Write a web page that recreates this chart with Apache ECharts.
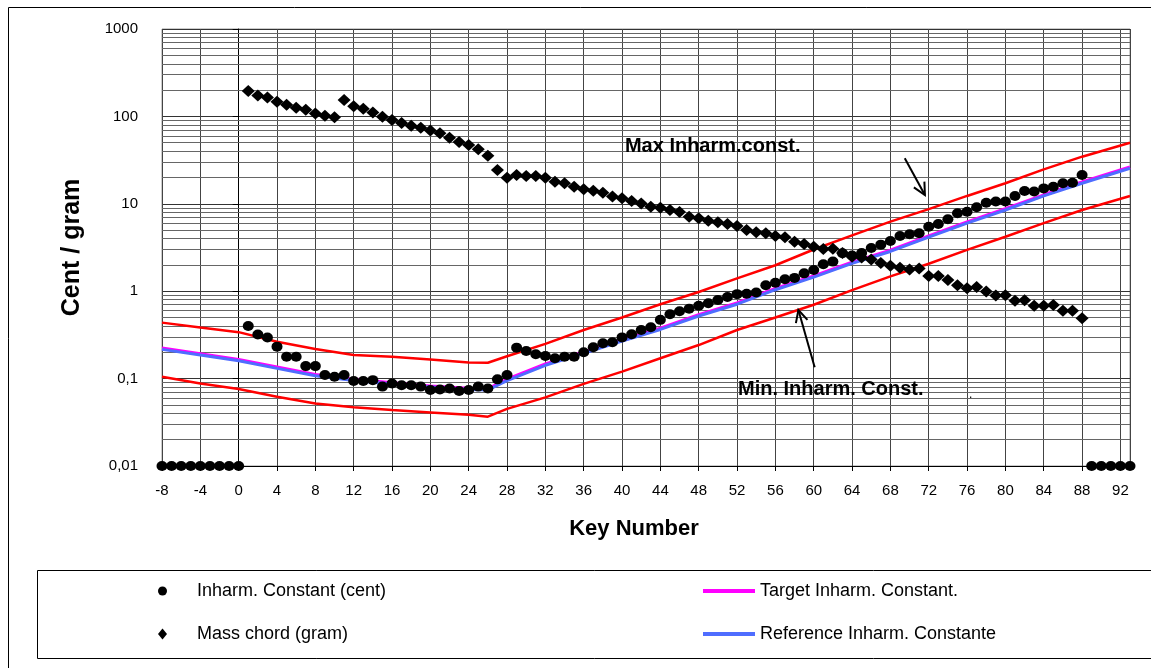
<!DOCTYPE html>
<html>
<head>
<meta charset="utf-8">
<script src="https://cdn.jsdelivr.net/npm/echarts@6/dist/echarts.min.js"></script>
<style>
  html, body { margin: 0; padding: 0; background: #ffffff; }
  #chart { width: 1151px; height: 668px; }
</style>
</head>
<body>
<div id="chart"></div>
<script>
// Piano keys -8 .. 93 (inharmonicity sampled on every key)
const keyNumbers = [-8, -7, -6, -5, -4, -3, -2, -1, 0,
  1, 2, 3, 4, 5, 6, 7, 8, 9, 10, 11, 12, 13, 14, 15, 16, 17, 18, 19, 20,
  21, 22, 23, 24, 25, 26, 27, 28, 29, 30, 31, 32, 33, 34, 35, 36, 37, 38, 39, 40,
  41, 42, 43, 44, 45, 46, 47, 48, 49, 50, 51, 52, 53, 54, 55, 56, 57, 58, 59, 60,
  61, 62, 63, 64, 65, 66, 67, 68, 69, 70, 71, 72, 73, 74, 75, 76, 77, 78, 79, 80,
  81, 82, 83, 84, 85, 86, 87, 88, 89, 90, 91, 92, 93];

// Measured inharmonicity constant (cent) per key
const inharmCents = [0.01, 0.01, 0.01, 0.01, 0.01, 0.01, 0.01, 0.01, 0.01,
  0.40, 0.32, 0.295, 0.232, 0.178, 0.178, 0.139, 0.139, 0.110, 0.105,
  0.110, 0.094, 0.094, 0.096, 0.081, 0.088, 0.084, 0.084, 0.081, 0.074,
  0.075, 0.077, 0.072, 0.074, 0.081, 0.077, 0.098, 0.110, 0.226, 0.207,
  0.190, 0.181, 0.171, 0.178, 0.178, 0.200, 0.228, 0.254, 0.260, 0.296,
  0.321, 0.360, 0.386, 0.47, 0.545, 0.59, 0.63, 0.68, 0.727, 0.793,
  0.86, 0.925, 0.935, 0.965, 1.17, 1.25, 1.37, 1.42, 1.60, 1.75,
  2.03, 2.18, 2.72, 2.56, 2.74, 3.12, 3.41, 3.75, 4.28, 4.48,
  4.60, 5.47, 5.87, 6.65, 7.79, 8.12, 9.12, 10.3, 10.6, 10.6,
  12.3, 14.0, 13.8, 15.0, 15.7, 17.2, 17.4, 21.4,
  0.01, 0.01, 0.01, 0.01, 0.01];

// Keys 1 .. 88 carry a string
const massKeys = keyNumbers.slice(9, 97);

// Mass of the speaking string (gram), keys 1 .. 88
const massChord = [195, 174, 165, 147, 136, 126, 119, 108, 102, 98,
  154, 131, 122, 111, 99, 91, 84, 78, 74, 69,
  64, 57, 51, 47, 42, 35.5, 24.4, 19.9, 21.4, 20.8,
  20.8, 19.9, 17.9, 17.2, 15.7, 14.7, 14.1, 13.4, 12.1, 11.6,
  10.8, 10.1, 9.27, 9.03, 8.5, 8.05, 7.12, 6.82, 6.41, 6.14,
  5.87, 5.57, 5.01, 4.72, 4.6, 4.28, 4.14, 3.69, 3.47, 3.23,
  3.03, 3.05, 2.74, 2.48, 2.43, 2.30, 2.10, 1.95, 1.86, 1.77,
  1.82, 1.49, 1.49, 1.34, 1.17, 1.08, 1.12, 0.99, 0.89, 0.90,
  0.78, 0.79, 0.683, 0.683, 0.695, 0.598, 0.598, 0.49];

// Keys at which the reference curves are tabulated
const curveKeys = [-8, -4, 0, 4, 8, 12, 16, 20, 24, 26, 28, 32, 36, 40, 44, 48,
  52, 56, 60, 64, 68, 72, 76, 80, 84, 88, 93];

const maxInharm = [0.437, 0.385, 0.34, 0.264, 0.218, 0.186, 0.178, 0.165, 0.153, 0.152,
  0.18, 0.25, 0.36, 0.50, 0.71, 0.98, 1.40, 1.98, 3.0, 4.35, 6.25, 8.7, 12.3, 17.2,
  24.8, 34.6, 50];
const targetInharm = [0.222, 0.191, 0.164, 0.135, 0.111, 0.098, 0.089, 0.082, 0.077, 0.076,
  0.098, 0.146, 0.200, 0.275, 0.375, 0.535, 0.73, 1.07, 1.49, 2.14, 2.93, 4.27, 6.17,
  8.74, 12.6, 17.7, 26.2];
const referenceInharm = [0.216, 0.186, 0.160, 0.131, 0.108, 0.095, 0.087, 0.080, 0.075, 0.074,
  0.095, 0.142, 0.195, 0.268, 0.365, 0.52, 0.71, 1.04, 1.45, 2.08, 2.85, 4.15, 6.0,
  8.5, 12.3, 17.2, 25.5];
const minInharm = [0.105, 0.088, 0.076, 0.062, 0.052, 0.047, 0.0437, 0.041, 0.0385, 0.0367,
  0.045, 0.061, 0.087, 0.12, 0.171, 0.242, 0.36, 0.50, 0.70, 1.03, 1.48, 2.06, 2.97,
  4.2, 6.0, 8.5, 12.3];

// Y tick labels (decimal comma)
const yTickLabels = ['0,01', '0,1', '1', '10', '100', '1000'];

// Annotation anchors in data space: [key, value]
const maxArrow = [[69.5, 33.2], [71.6, 12.6]];
const minArrow = [[60.1, 0.135], [58.4, 0.61]];
const maxLabelAt = [40.3, 44.7];
const minLabelAt = [52.1, 0.076];
const strayDotAt = [76.2, 0.065];

const FONT = '"Liberation Sans", Arial, sans-serif';

const pairs = (xs, ys) => xs.map((x, i) => [x, ys[i]]);

// minor log gridlines at 2..9 of each decade
const minorGrid = [];
for (let d = -2; d <= 2; d++) {
  for (let m = 2; m <= 9; m++) minorGrid.push({ yAxis: +(m * Math.pow(10, d)).toPrecision(3) });
}

const lineSeries = (name, ys, color, width, z) => ({
  name, type: 'line', data: pairs(curveKeys, ys), showSymbol: false, symbol: 'none',
  lineStyle: { color, width }, itemStyle: { color }, z, silent: true
});

const legendText = { fontFamily: FONT, fontSize: 18, color: '#000', lineHeight: 20 };
const legendBase = { orient: 'horizontal', selectedMode: false, padding: 0 };

const option = {
  animation: false,
  backgroundColor: '#ffffff',
  grid: { left: 162, top: 29, width: 968, height: 437, show: true,
    borderColor: '#999', borderWidth: 1, backgroundColor: 'transparent' },
  xAxis: {
    type: 'value', min: -8, max: 93, interval: 4,
    name: 'Key Number', nameLocation: 'middle', nameGap: 52,
    nameTextStyle: { fontFamily: FONT, fontSize: 22, fontWeight: 'bold', color: '#000', padding: [0, 24, 0, 0] },
    axisLine: { show: true, onZero: false, lineStyle: { color: '#000', width: 1 } },
    axisTick: { show: true, length: 5, lineStyle: { color: '#000' } },
    axisLabel: { show: true, showMaxLabel: false, margin: 17, fontFamily: FONT, fontSize: 15, color: '#000' },
    splitLine: { show: true, lineStyle: { color: '#444', width: 1 } }
  },
  yAxis: {
    type: 'log', logBase: 10, min: 0.01, max: 1000,
    name: 'Cent / gram', nameLocation: 'middle', nameGap: 77, nameRotate: 90,
    nameTextStyle: { fontFamily: FONT, fontSize: 25, fontWeight: 'bold', color: '#000' },
    axisLine: { show: true, lineStyle: { color: '#000', width: 1 } },
    axisTick: { show: true, length: 6, lineStyle: { color: '#000' } },
    axisLabel: { margin: 24, fontFamily: FONT, fontSize: 15, color: '#000',
      formatter: v => yTickLabels[Math.round(Math.log10(v)) + 2] },
    splitLine: { show: true, lineStyle: { color: '#333', width: 1 } }
  },
  legend: [
    Object.assign({}, legendBase, { left: 158, top: 581, itemWidth: 9, itemHeight: 9,
      data: [{ name: 'Inharm. Constant (cent)', icon: 'circle' }],
      textStyle: Object.assign({}, legendText, { padding: [0, 0, 0, 25] }) }),
    Object.assign({}, legendBase, { left: 158, top: 624, itemWidth: 9, itemHeight: 11,
      data: [{ name: 'Mass chord (gram)', icon: 'diamond' }],
      textStyle: Object.assign({}, legendText, { padding: [0, 0, 0, 25] }) }),
    Object.assign({}, legendBase, { left: 703, top: 581, itemWidth: 52, itemHeight: 4,
      data: [{ name: 'Target Inharm. Constant.', icon: 'rect' }], textStyle: legendText }),
    Object.assign({}, legendBase, { left: 703, top: 624, itemWidth: 52, itemHeight: 4,
      data: [{ name: 'Reference Inharm. Constante', icon: 'rect' }], textStyle: legendText })
  ],
  series: [
    {
      name: 'minor grid', type: 'line', data: [], silent: true,
      markLine: { z: 1, silent: true, animation: false, symbol: ['none', 'none'],
        label: { show: false }, emphasis: { disabled: true },
        lineStyle: { color: '#666', width: 1, type: 'solid' }, data: minorGrid }
    },
    lineSeries('Max Inharm. Constant', maxInharm, '#ff0000', 2.5, 2),
    lineSeries('Min Inharm. Constant', minInharm, '#ff0000', 2.5, 2),
    lineSeries('Target Inharm. Constant.', targetInharm, '#ff00ff', 3.5, 3),
    lineSeries('Reference Inharm. Constante', referenceInharm, '#4f6dff', 3, 4),
    {
      name: 'Inharm. Constant (cent)', type: 'scatter', data: pairs(keyNumbers, inharmCents),
      symbol: 'circle', symbolSize: [11, 10], itemStyle: { color: '#000', opacity: 1 }, z: 6, silent: true
    },
    {
      name: 'Mass chord (gram)', type: 'scatter', data: pairs(massKeys, massChord),
      symbol: 'diamond', symbolSize: [13, 12], itemStyle: { color: '#000', opacity: 1 }, z: 6, silent: true
    }
  ]
};

const chart = echarts.init(document.getElementById('chart'), null, { renderer: 'canvas' });
chart.setOption(option);

// Annotations placed through the grid's own coordinate conversion
const px = p => chart.convertToPixel({ gridIndex: 0 }, p);

function arrow(fromTo) {
  const s = px(fromTo[0]);
  const t = px(fromTo[1]);
  const dx = t[0] - s[0], dy = t[1] - s[1];
  const len = Math.hypot(dx, dy);
  const ux = dx / len, uy = dy / len;
  const nx = -uy, ny = ux;
  const back = 12, half = 6;
  const w1 = [t[0] - back * ux + half * nx, t[1] - back * uy + half * ny];
  const w2 = [t[0] - back * ux - half * nx, t[1] - back * uy - half * ny];
  return [
    { type: 'line', silent: true, z: 10, shape: { x1: s[0], y1: s[1], x2: t[0], y2: t[1] },
      style: { stroke: '#000', lineWidth: 2 } },
    { type: 'polyline', silent: true, z: 10, shape: { points: [w1, t, w2] },
      style: { stroke: '#000', lineWidth: 2, fill: null } }
  ];
}

function label(text, at, size, bold) {
  const p = px(at);
  return { type: 'text', silent: true, z: 10, x: p[0], y: p[1],
    style: { text, fill: '#000', font: (bold ? 'bold ' : '') + size + 'px ' + FONT,
      textAlign: 'left', textVerticalAlign: 'middle' } };
}

chart.setOption({
  graphic: [
    { type: 'rect', silent: true, z: -1, shape: { x: 8.5, y: 7.5, width: 1200, height: 700 },
      style: { fill: null, stroke: '#000', lineWidth: 1 } },
    { type: 'rect', silent: true, z: -1, shape: { x: 37.5, y: 570.5, width: 1200, height: 88 },
      style: { fill: null, stroke: '#000', lineWidth: 1 } },
    label('Max Inharm.const.', maxLabelAt, 20, true),
    label('Min. Inharm. Const.', minLabelAt, 20, true),
    label('.', strayDotAt, 12, false)
  ].concat(arrow(maxArrow), arrow(minArrow))
});
</script>
</body>
</html>
